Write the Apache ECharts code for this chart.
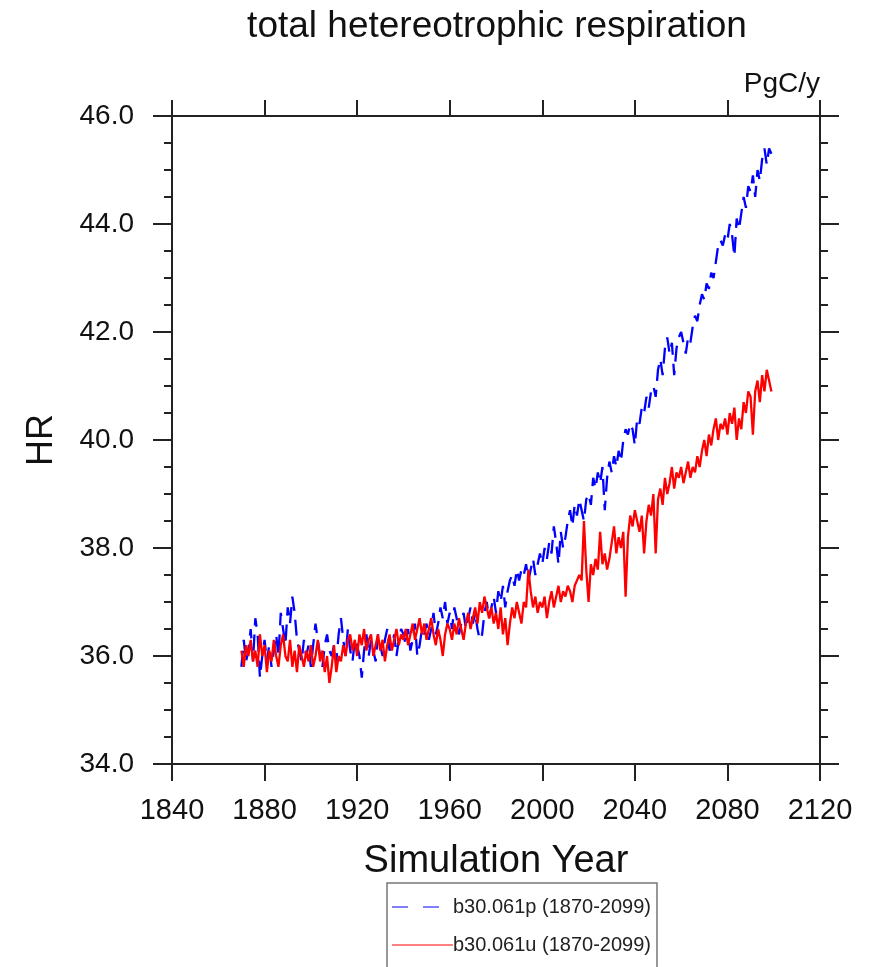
<!DOCTYPE html>
<html>
<head>
<meta charset="utf-8">
<script src="https://cdn.jsdelivr.net/npm/echarts@6/dist/echarts.min.js"></script>
<style>html,body{margin:0;padding:0;background:#fff}#c{width:870px;height:967px}</style>
</head>
<body>
<div id="c"></div>
<script>
var startYear = 1870;
var xTicks = [1840, 2120, 40];
var yTicks = [34, 46, 2];
var seriesNames = ['b30.061p (1870-2099)', 'b30.061u (1870-2099)'];

var hrP = [
35.8, 36.3, 35.9, 36.1, 36.5, 35.9, 36.7, 36.4, 35.6, 36.0,
36.3, 35.9, 36.2, 35.8, 36.1, 36.4, 36.0, 36.8, 36.5, 36.2,
36.9, 36.6, 37.1, 36.8, 36.3, 36.1, 35.9, 36.3, 36.0, 36.2,
35.8, 36.2, 36.6, 36.3, 36.0, 35.8, 36.2, 36.4, 36.1, 36.0,
36.2, 35.9, 36.4, 36.7, 36.3, 36.0, 36.5, 36.1, 35.9, 36.3,
36.2, 36.0, 35.6, 36.1, 36.4, 36.0, 36.3, 36.1, 35.9, 36.4,
36.2, 36.0, 36.3, 36.5, 36.1, 36.2, 36.4, 36.0, 36.3, 36.5,
36.4, 36.2, 36.5, 36.1, 36.3, 36.6, 36.0, 36.2, 36.5, 36.4,
36.6, 36.3, 36.5, 36.8, 36.4, 36.6, 36.9, 36.7, 37.0, 36.6,
36.8, 36.5, 36.9, 36.7, 36.4, 36.6, 36.8, 36.5, 36.7, 36.9,
36.6, 36.8, 36.5, 36.3, 36.4, 36.8, 37.0, 36.7, 36.9, 37.1,
36.8, 37.2, 37.0, 37.3, 36.9, 37.2, 37.4, 37.5, 37.3, 37.6,
37.4, 37.6, 37.5, 37.7, 37.4, 37.6, 37.8, 37.5, 37.7, 37.9,
37.7, 38.0, 37.8, 38.1, 37.9, 38.4, 38.1, 37.7, 38.3, 38.0,
38.2, 38.5, 38.7, 38.4, 38.8, 38.6, 38.9, 38.7, 38.5, 38.9,
39.0, 38.8, 39.3, 39.1, 39.4, 39.2, 39.5, 38.7, 39.3, 39.6,
39.4, 39.7, 39.5, 39.8, 39.6, 40.0, 40.2, 40.1, 40.3, 40.2,
39.9, 40.4, 40.3, 40.6, 40.5, 40.8, 40.6, 40.9, 41.0, 40.8,
41.3, 41.5, 41.2, 41.7, 41.9, 41.6, 41.8, 41.2, 41.7, 41.9,
42.0, 41.8, 41.6, 41.9, 41.8, 42.1, 42.3, 42.2, 42.5, 42.7,
42.6, 42.9, 42.8, 43.1, 43.0, 43.3, 43.6, 43.7, 43.6, 43.8,
43.7, 44.0, 43.8, 43.4, 44.1, 43.9, 44.2, 44.5, 44.3, 44.7,
44.6, 44.9, 44.5, 45.0, 44.8, 45.2, 45.4, 45.1, 45.4, 45.3
];

var hrU = [
36.1, 35.8, 36.2, 36.0, 36.3, 35.9, 36.1, 35.8, 36.4, 36.0,
36.2, 35.7, 36.1, 35.9, 36.3, 36.0, 35.8, 36.2, 36.4, 36.0,
35.9, 36.3, 35.8, 36.1, 35.7, 36.2, 36.0, 35.8, 36.1, 35.9,
36.2, 35.8, 36.0, 36.3, 35.9, 36.1, 35.7, 36.0, 35.5, 35.8,
36.2, 35.7, 36.0, 35.9, 36.2, 36.0, 36.3, 36.4, 36.1, 36.3,
36.0, 36.4, 36.2, 36.5, 36.1, 36.3, 36.4, 36.0, 36.2, 36.4,
36.1, 36.3, 35.9, 36.2, 36.4, 36.1, 36.3, 36.5, 36.2, 36.4,
36.3, 36.5, 36.2, 36.4, 36.6, 36.3, 36.5, 36.7, 36.4, 36.6,
36.3, 36.5, 36.7, 36.4, 36.2, 36.5, 36.3, 36.0, 36.4, 36.6,
36.5, 36.3, 36.6, 36.4, 36.7, 36.5, 36.3, 36.6, 36.8, 36.5,
36.7, 36.9, 36.6, 37.0, 36.8, 37.1, 36.9, 36.7, 36.9, 36.6,
36.8, 36.5, 36.9, 36.4, 36.7, 36.2, 36.6, 36.9, 36.7, 37.0,
36.8, 36.6, 37.0, 36.9, 37.6, 37.2, 36.9, 37.1, 36.8, 37.0,
36.9, 37.1, 36.7, 37.0, 37.2, 36.9, 37.1, 37.3, 37.0, 37.2,
37.1, 37.3, 37.2, 37.0, 37.3, 37.4, 37.5, 37.4, 38.5, 37.6,
37.0, 37.7, 37.5, 37.8, 37.6, 38.3, 37.7, 37.9, 37.6, 37.8,
38.1, 38.4, 37.9, 38.2, 38.0, 38.3, 37.1, 38.2, 38.6, 38.4,
38.7, 38.5, 38.3, 38.6, 37.9, 38.5, 38.8, 38.6, 39.0, 37.9,
38.9, 39.1, 38.8, 39.3, 39.0, 39.2, 39.5, 39.1, 39.4, 39.3,
39.5, 39.2, 39.4, 39.6, 39.3, 39.5, 39.4, 39.7, 39.5, 39.8,
40.0, 39.7, 40.1, 39.9, 40.2, 40.4, 40.0, 40.3, 40.2, 40.4,
40.1, 40.5, 40.3, 40.6, 40.0, 40.4, 40.2, 40.7, 40.5, 40.9,
40.8, 40.1, 40.9, 41.1, 40.7, 41.2, 40.9, 41.3, 41.1, 40.9
];

function pairs(vals) {
  return vals.map(function (v, i) { return [startYear + i, v]; });
}

var FONT = '"Liberation Sans", Arial, Helvetica, sans-serif';
var AX = '#222';
var chart = echarts.init(document.getElementById('c'), null, {renderer: 'canvas'});

function xAxisDef(pos, showLabel) {
  return {
    type: 'value', position: pos, min: xTicks[0], max: xTicks[1], interval: xTicks[2],
    axisLine: {show: true, onZero: false, lineStyle: {color: AX, width: 2}},
    axisTick: {show: true, inside: false, length: pos === 'bottom' ? 17 : 16, lineStyle: {color: AX, width: 2}},
    axisLabel: {show: showLabel, fontSize: 29, fontFamily: FONT, color: '#111', margin: 32,
      formatter: function (v) { return String(v); }},
    splitLine: {show: false},
    name: pos === 'bottom' ? 'Simulation Year' : '',
    nameLocation: 'middle', nameGap: 79,
    nameTextStyle: {fontSize: 38, fontFamily: FONT, color: '#111'}
  };
}
function yAxisDef(pos, showLabel) {
  return {
    type: 'value', position: pos, min: yTicks[0], max: yTicks[1], interval: yTicks[2],
    axisLine: {show: true, onZero: false, lineStyle: {color: AX, width: 2}},
    axisTick: {show: true, inside: false, length: 19, lineStyle: {color: AX, width: 2}},
    minorTick: {show: true, splitNumber: 4, length: 8, lineStyle: {color: AX, width: 2}},
    axisLabel: {show: showLabel, fontSize: 28, fontFamily: FONT, color: '#111', margin: 38,
      formatter: function (v) { return v.toFixed(1); }},
    splitLine: {show: false},
    minorSplitLine: {show: false},
    name: pos === 'left' ? 'HR' : '',
    nameLocation: 'middle', nameGap: 112, nameRotate: 90,
    nameTextStyle: {fontSize: 36, fontFamily: FONT, color: '#111'}
  };
}

var LX = 387, LY = 883;
chart.setOption({
  animation: false,
  backgroundColor: '#fff',
  grid: {left: 172, right: 50, top: 116, bottom: 203, containLabel: false},
  xAxis: [xAxisDef('bottom', true), xAxisDef('top', false)],
  yAxis: [yAxisDef('left', true), yAxisDef('right', false)],
  graphic: [
    {type: 'text', x: 497, y: 27, style: {text: 'total hetereotrophic respiration', fontSize: 37,
      fontFamily: FONT, fill: '#111', align: 'center', verticalAlign: 'middle'}},
    {type: 'text', x: 820, y: 84, style: {text: 'PgC/y', fontSize: 28,
      fontFamily: FONT, fill: '#111', align: 'right', verticalAlign: 'middle'}},
    {type: 'rect', shape: {x: LX, y: LY, width: 270, height: 100},
      style: {fill: '#fff', stroke: '#777', lineWidth: 1.5}},
    {type: 'line', shape: {x1: LX + 5, y1: LY + 24, x2: LX + 53, y2: LY + 24},
      style: {stroke: '#0000ff', lineWidth: 1, lineDash: [16, 15]}},
    {type: 'text', x: LX + 66, y: LY + 24, style: {text: seriesNames[0], fontSize: 20,
      fontFamily: FONT, fill: '#222', align: 'left', verticalAlign: 'middle'}},
    {type: 'line', shape: {x1: LX + 5, y1: LY + 62, x2: LX + 66, y2: LY + 62},
      style: {stroke: '#ff0000', lineWidth: 1}},
    {type: 'text', x: LX + 66, y: LY + 62, style: {text: seriesNames[1], fontSize: 20,
      fontFamily: FONT, fill: '#222', align: 'left', verticalAlign: 'middle'}}
  ],
  series: [
    {name: seriesNames[0], type: 'line', xAxisIndex: 0, yAxisIndex: 0, data: pairs(hrP),
      showSymbol: false, symbol: 'none', color: '#0000ff',
      lineStyle: {color: '#0000ff', width: 2.3, type: [16, 9]}},
    {name: seriesNames[1], type: 'line', xAxisIndex: 0, yAxisIndex: 0, data: pairs(hrU),
      showSymbol: false, symbol: 'none', color: '#ff0000',
      lineStyle: {color: '#ff0000', width: 2.3}}
  ]
});
</script>
</body>
</html>
